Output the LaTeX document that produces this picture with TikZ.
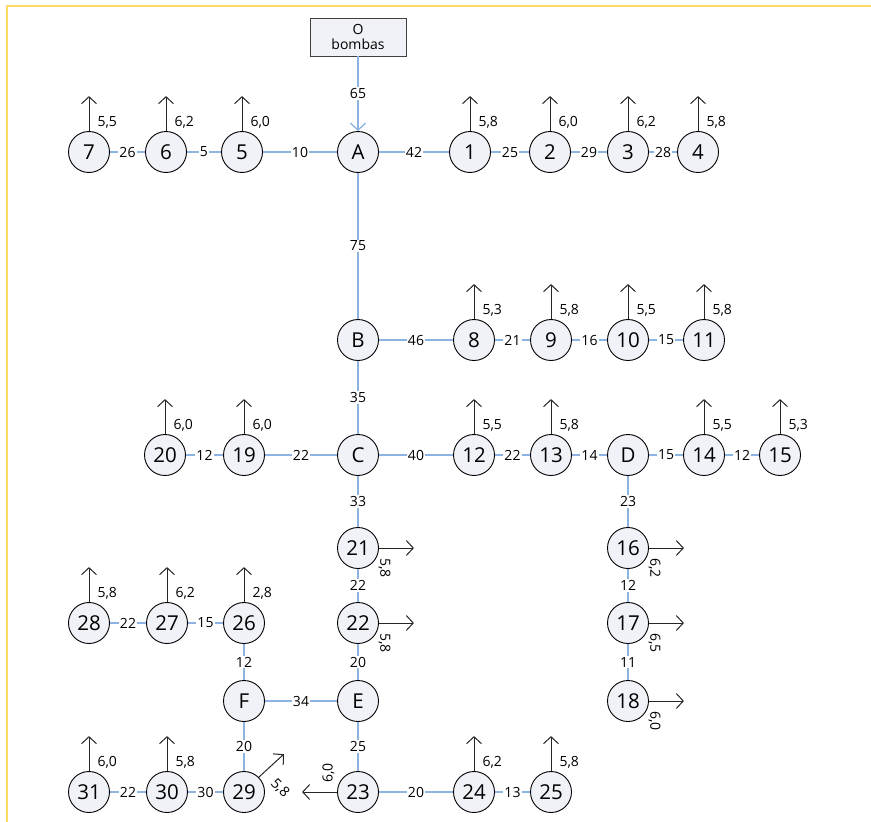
\documentclass[tikz,border=0pt]{standalone}
\usepackage{fontspec}
\setmainfont{Open Sans}
\usepackage{tikz}
\usetikzlibrary{arrows.meta,positioning,calc}

\definecolor{pipeblue}{RGB}{141,179,226}
\definecolor{nodefill}{RGB}{240,242,247}
\definecolor{frameyellow}{RGB}{255,217,102}

\begin{document}
\begin{tikzpicture}[on grid,
  junc/.style={circle,draw,line width=0.9pt,fill=nodefill,minimum size=41pt,inner sep=0pt,font=\fontsize{20.5}{21}\selectfont},
  source/.style={draw=black!75,line width=0.9pt,fill=nodefill,minimum width=96pt,minimum height=38pt,align=center,inner sep=1pt,font=\fontsize{14}{15}\selectfont},
  pipe/.style={draw=pipeblue,line width=1.3pt},
  len/.style={fill=white,inner sep=1.2pt,font=\fontsize{14}{15}\selectfont},
  dem/.style={draw=black!85,line width=1pt,-{Straight Barb[length=7pt,width=15pt]}},
  dlab/.style={inner sep=1pt,font=\fontsize{14}{15}\selectfont}]
\useasboundingbox (0,0) rectangle (871pt,-822pt);
\draw[frameyellow,line width=1.5pt] (7pt,-822pt) -- (7pt,-6pt) -- (871pt,-6pt);

% main line
\node[junc] (A) at (358pt,-152pt) {A};
\node[source,above=115pt of A] (O) {O\\bombas};
\node[junc,below=188pt of A] (B) {B};
\node[junc,below=115pt of B] (C) {C};
\node[junc,below=93pt of C] (n21) {21};
\node[junc,below=75pt of n21] (n22) {22};
\node[junc,below=78pt of n22] (E) {E};
\node[junc,below=91pt of E] (n23) {23};

% branch A
\node[junc,right=112pt of A] (n1) {1};
\node[junc,right=80pt of n1] (n2) {2};
\node[junc,right=78pt of n2] (n3) {3};
\node[junc,right=70pt of n3] (n4) {4};
\node[junc,left=116pt of A] (n5) {5};
\node[junc,left=76pt of n5] (n6) {6};
\node[junc,left=77pt of n6] (n7) {7};

% branch B
\node[junc,right=116pt of B] (n8) {8};
\node[junc,right=77pt of n8] (n9) {9};
\node[junc,right=77pt of n9] (n10) {10};
\node[junc,right=76pt of n10] (n11) {11};

% branch C
\node[junc,left=114pt of C] (n19) {19};
\node[junc,left=79pt of n19] (n20) {20};
\node[junc,right=116pt of C] (n12) {12};
\node[junc,right=77pt of n12] (n13) {13};
\node[junc,right=77pt of n13] (D) {D};
\node[junc,right=76pt of D] (n14) {14};
\node[junc,right=76pt of n14] (n15) {15};
\node[junc,below=93pt of D] (n16) {16};
\node[junc,below=75pt of n16] (n17) {17};
\node[junc,below=78pt of n17] (n18) {18};

% branch E
\node[junc,left=114pt of E] (F) {F};
\node[junc,above=78pt of F] (n26) {26};
\node[junc,left=77pt of n26] (n27) {27};
\node[junc,left=78pt of n27] (n28) {28};
\node[junc,below=91pt of F] (n29) {29};
\node[junc,left=77pt of n29] (n30) {30};
\node[junc,left=78pt of n30] (n31) {31};
\node[junc,right=116pt of n23] (n24) {24};
\node[junc,right=77pt of n24] (n25) {25};

% pipes
\draw[pipe,-{Straight Barb[length=7pt,width=15pt]}] (O) -- node[len]{65} (A);
\foreach \a/\b/\l in {A/n5/10,n5/n6/5,n6/n7/26,A/n1/42,n1/n2/25,n2/n3/29,n3/n4/28,
  A/B/75,B/n8/46,n8/n9/21,n9/n10/16,n10/n11/15,B/C/35,C/n19/22,n19/n20/12,
  C/n12/40,n12/n13/22,n13/D/14,D/n14/15,n14/n15/12,D/n16/23,n16/n17/12,n17/n18/11,
  C/n21/33,n21/n22/22,n22/E/20,E/F/34,F/n26/12,n26/n27/15,n27/n28/22,
  F/n29/20,n29/n30/30,n30/n31/22,E/n23/25,n23/n24/20,n24/n25/13}
  \draw[pipe] (\a) -- node[len]{\l} (\b);

% demands
\foreach \n/\q in {n7/{5,5},n6/{6,2},n5/{6,0},n1/{5,8},n2/{6,0},n3/{6,2},n4/{5,8},
  n8/{5,3},n9/{5,8},n10/{5,5},n11/{5,8},n20/{6,0},n19/{6,0},n12/{5,5},n13/{5,8},
  n14/{5,5},n15/{5,3},n28/{5,8},n27/{6,2},n26/{2,8},n31/{6,0},n30/{5,8},n24/{6,2},n25/{5,8}}
  \draw[dem] (\n.north) -- ++(0,35pt) node[dlab,pos=0.25,anchor=west,xshift=7pt]{\q};
\foreach \n/\q in {n21/{5,8},n22/{5,8},n16/{6,2},n17/{6,5},n18/{6,0}}{
  \draw[dem] (\n.east) -- ++(35pt,0);
  \node[dlab,rotate=-90,anchor=west] at ($(\n.east)+(5.5pt,-9pt)$) {\q};
}
\draw[dem] (n23.west) -- ++(-35pt,0);
\node[dlab,rotate=90,anchor=west] at ($(n23.west)+(-8.5pt,8pt)$) {6,0};
\draw[dem] (n29.north east) -- ++(25pt,23pt);
\node[dlab,rotate=-45] at ($(n29)+(36pt,4pt)$) {5,8};
\end{tikzpicture}
\end{document}
